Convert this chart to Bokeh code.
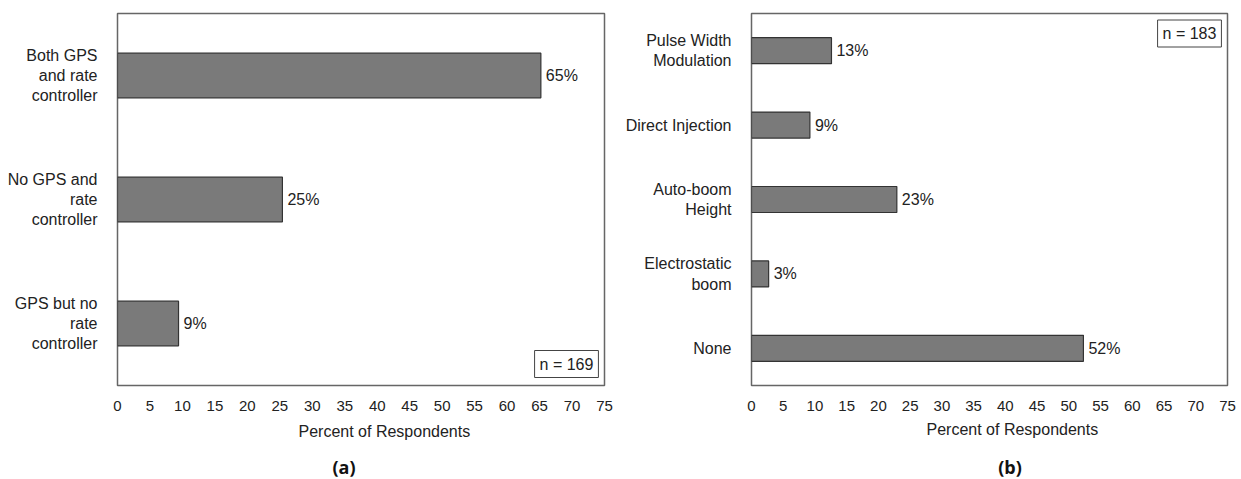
from bokeh.plotting import figure
from bokeh.models import ColumnDataSource, Range1d, FactorRange, Label, FixedTicker, Title, Div
from bokeh.layouts import row, column
from bokeh.embed import file_html
from bokeh.resources import INLINE
from bokeh.core.properties import value

# ---- data -------------------------------------------------------------
cats_a = ["Both GPS\nand rate\ncontroller",
          "No GPS and\nrate\ncontroller",
          "GPS but no\nrate\ncontroller"]
vals_a = [65.2, 25.4, 9.4]
labels_a = ["65%", "25%", "9%"]
n_a = "n = 169"
caption_a = "(a)"

cats_b = ["Pulse Width\nModulation",
          "Direct Injection",
          "Auto-boom\nHeight",
          "Electrostatic\nboom",
          "None"]
vals_b = [12.6, 9.2, 22.9, 2.7, 52.3]
labels_b = ["13%", "9%", "23%", "3%", "52%"]
n_b = "n = 183"
caption_b = "(b)"

x_ticks = list(range(0, 80, 5))
x_title = "Percent of Respondents"

FONT = "Liberation Sans"
TXT = "#222222"


def make(cats, vals, labels, n_text, width, height, bl, br, bt, bb,
         bar_h, n_top, title_off, title_standoff):
    p = figure(width=width, height=height, output_backend="svg",
               toolbar_location=None,
               x_range=Range1d(0, 75),
               y_range=FactorRange(*reversed(cats)),
               min_border_left=bl, min_border_right=br,
               min_border_top=bt, min_border_bottom=bb)
    src = ColumnDataSource(dict(cat=cats, val=vals, lab=labels))
    p.hbar(y="cat", left=0, right="val", height=bar_h, source=src,
           fill_color="#7a7a7a", line_color="#333333", line_width=1.2)
    p.text(x="val", y="cat", text="lab", source=src, x_offset=5,
           text_baseline="middle", text_align="left",
           text_font=value(FONT), text_font_size="16px", text_color=TXT)

    p.xaxis.ticker = FixedTicker(ticks=x_ticks)
    for ax in (p.xaxis, p.yaxis):
        ax.major_tick_line_color = None
        ax.minor_tick_line_color = None
        ax.axis_line_color = None
        ax.major_label_text_font = FONT
        ax.major_label_text_color = TXT
    p.xaxis.major_label_text_font_size = "15px"
    p.xaxis.major_label_standoff = 9
    p.yaxis.major_label_text_font_size = "16px"
    p.yaxis.major_label_standoff = 14
    p.yaxis.major_label_text_align = "center"
    p.grid.visible = False
    p.outline_line_color = "#666666"
    p.outline_line_width = 1.5

    nfac = len(cats)
    if n_top:
        ny, noff = nfac, -20
    else:
        ny, noff = 0, 21.5
    p.add_layout(Label(x=75, y=ny, x_offset=-38, y_offset=noff, text=n_text,
                       text_align="center", text_baseline="middle",
                       text_font=FONT, text_font_size="16px", text_color=TXT,
                       border_line_color="#444444", border_line_width=1,
                       background_fill_color="white", padding=5))
    p.add_layout(Title(text=x_title, align="left", offset=title_off,
                       standoff=title_standoff, text_font=FONT,
                       text_font_size="16px", text_font_style="normal",
                       text_color=TXT), "below")
    return p


def caption_div(text, width, center_x):
    html = ('<div style="width:60px;margin-left:%dpx;text-align:center;'
            'font-family:\'Open Sans\';font-weight:bold;font-size:18px;'
            'line-height:19px;color:#111111;">%s</div>' % (center_x - 30, text))
    return Div(text=html, width=width, height=21, margin=0)


p1 = make(cats_a, vals_a, labels_a, n_a, 620, 458, 117, 16, 13, 73,
          0.36, False, 181, 14)
p2 = make(cats_b, vals_b, labels_b, n_b, 621, 458, 131, 14, 13, 70,
          0.35, True, 175, 11)

d1 = caption_div(caption_a, 620, 344)
d2 = caption_div(caption_b, 621, 390)

layout = column(row(p1, p2), row(d1, d2))
open("out.html", "w").write(file_html(layout, INLINE))
